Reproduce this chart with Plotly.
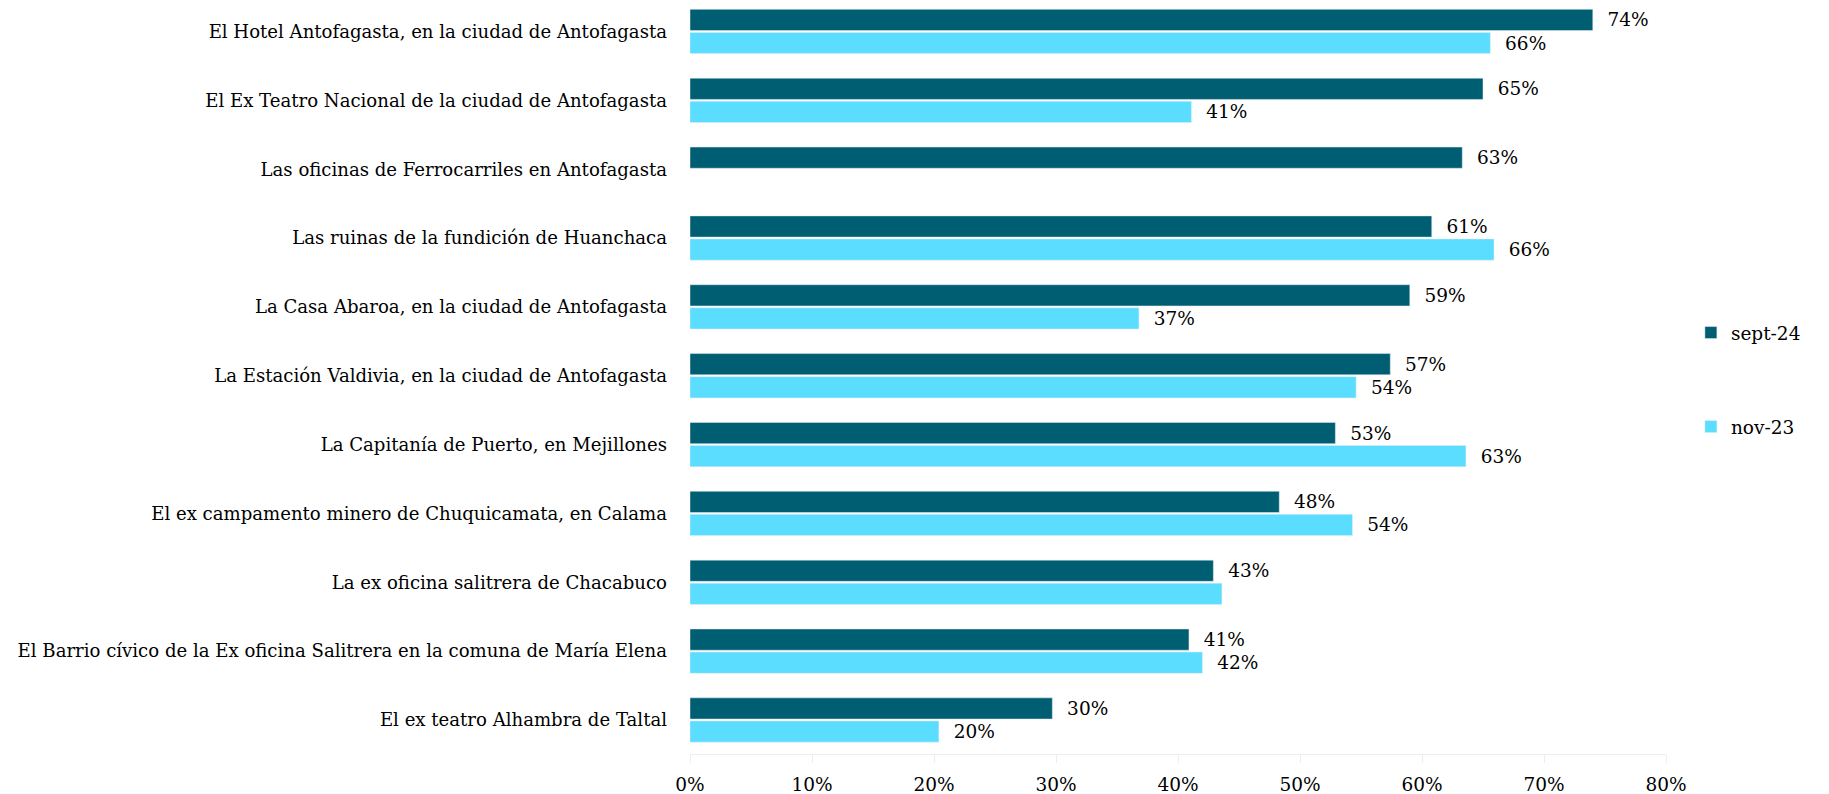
import plotly.graph_objects as go

categories = [
    "El Hotel Antofagasta, en la ciudad de Antofagasta",
    "El Ex Teatro Nacional de la ciudad de Antofagasta",
    "Las oficinas de Ferrocarriles en Antofagasta",
    "Las ruinas de la fundición de Huanchaca",
    "La Casa Abaroa, en la ciudad de Antofagasta",
    "La Estación Valdivia, en la ciudad de Antofagasta",
    "La Capitanía de Puerto, en Mejillones",
    "El ex campamento minero de Chuquicamata, en Calama",
    "La ex oficina salitrera de Chacabuco",
    "El Barrio cívico de la Ex oficina Salitrera en la comuna de María Elena",
    "El ex teatro Alhambra de Taltal",
]
sept24 = [0.740, 0.650, 0.633, 0.608, 0.590, 0.574, 0.529, 0.483, 0.429, 0.409, 0.297]
nov23 = [0.656, 0.411, None, 0.659, 0.368, 0.546, 0.636, 0.543, 0.436, 0.420, 0.204]
sept24_labels = ["74%", "65%", "63%", "61%", "59%", "57%", "53%", "48%", "43%", "41%", "30%"]
nov23_labels = ["66%", "41%", "", "66%", "37%", "54%", "63%", "54%", "", "42%", "20%"]

FONT = "DejaVu Serif"
FS = 18.5
PAD = "\u00a0\u00a0"

fig = go.Figure()
fig.add_trace(go.Bar(
    y=categories, x=sept24, orientation="h", name="sept-24",
    marker=dict(color="#005E73"),
    text=[PAD + t if t else "" for t in sept24_labels],
    textposition="outside", cliponaxis=False,
    textfont=dict(family=FONT, size=FS, color="#000000"),
    legendgroup="a",
))
fig.add_trace(go.Bar(
    y=categories, x=nov23, orientation="h", name="nov-23",
    marker=dict(color="#5ADDFE"),
    text=[PAD + t if t else "" for t in nov23_labels],
    textposition="outside", cliponaxis=False,
    textfont=dict(family=FONT, size=FS, color="#000000"),
    legendgroup="b",
))

fig.update_layout(
    width=1821, height=786,
    margin=dict(l=682, r=163, t=0, b=40, autoexpand=False),
    paper_bgcolor="white", plot_bgcolor="white",
    barmode="group", bargap=0.33, bargroupgap=0.08,
    font=dict(family=FONT, size=FS, color="#000000"),
    showlegend=True,
    legend=dict(
        x=1.0255, xref="paper", xanchor="left",
        y=0.5898, yref="paper", yanchor="top",
        traceorder="grouped", tracegroupgap=67,
        font=dict(family=FONT, size=FS, color="#000000"),
        bgcolor="rgba(0,0,0,0)",
    ),
)
fig.update_xaxes(
    range=[0, 0.8], dtick=0.1, tickformat=".0%",
    showgrid=False, zeroline=False, automargin=False,
    showline=True, linecolor="#EEEEEE", linewidth=1,
    ticks="outside", ticklen=8, tickcolor="#EEEEEE", ticklabelstandoff=6,
    tickfont=dict(family=FONT, size=FS, color="#000000"),
)
fig.update_yaxes(
    range=[10.494, -0.341], showgrid=False, zeroline=False, showline=False,
    ticks="", ticklabelstandoff=22, automargin=False,
    tickfont=dict(family=FONT, size=18.1, color="#000000"),
)

fig.write_html("out.html")
